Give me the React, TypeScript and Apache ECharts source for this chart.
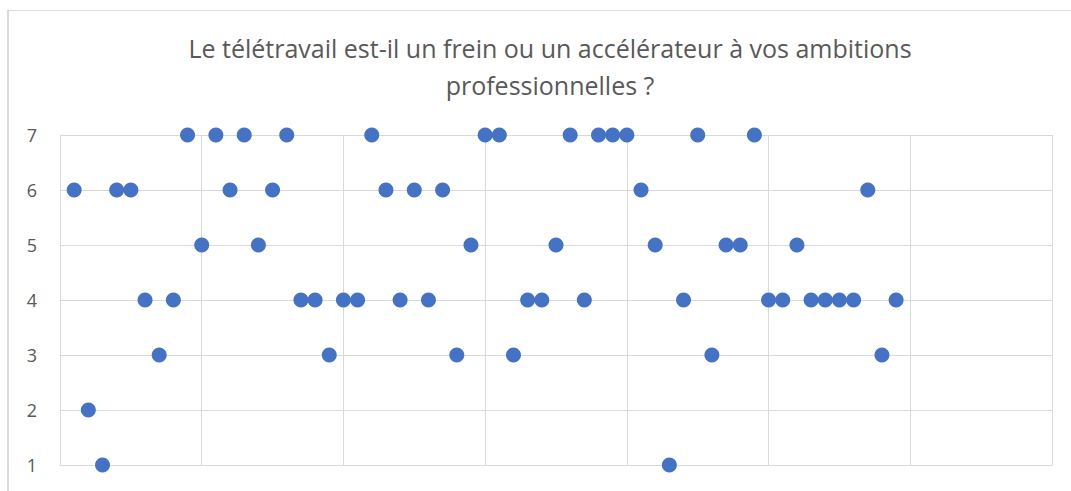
import React, { useEffect, useRef } from "react";
import * as echarts from "echarts";

const titleText = "Le télétravail est-il un frein ou un accélérateur à vos ambitions\nprofessionnelles ?";
const respondents = [
  1, 2, 3, 4, 5, 6, 7, 8, 9, 10, 11, 12, 13, 14, 15, 16, 17, 18, 19, 20,
  21, 22, 23, 24, 25, 26, 27, 28, 29, 30, 31, 32, 33, 34, 35, 36, 37, 38, 39, 40,
  41, 42, 43, 44, 45, 46, 47, 48, 49, 50, 51, 52, 53, 54, 55, 56, 57, 58, 59,
];
const answers = [
  6, 2, 1, 6, 6, 4, 3, 4, 7, 5, 7, 6, 7, 5, 6, 7, 4, 4, 3, 4,
  4, 7, 6, 4, 6, 4, 6, 3, 5, 7, 7, 3, 4, 4, 5, 7, 4, 7, 7, 7,
  6, 5, 1, 4, 7, 3, 5, 5, 7, 4, 4, 5, 4, 4, 4, 4, 6, 3, 4,
];
const yTicks = [1, 2, 3, 4, 5, 6, 7];

export default function App() {
  const ref = useRef<HTMLDivElement>(null);
  useEffect(() => {
    if (!ref.current) return;
    const chart = echarts.init(ref.current, null, { renderer: "svg" });
    const data = respondents.map((x, i) => [x, answers[i]]);
    chart.setOption({
      animation: false,
      backgroundColor: "#ffffff",
      title: {
        text: titleText,
        left: 545,
        textAlign: "center",
        top: 24,
        textStyle: {
          fontFamily: "Open Sans",
          fontSize: 25,
          fontWeight: "normal",
          color: "#595959",
          lineHeight: 37,
        },
      },
      graphic: [
        {
          type: "line",
          shape: { x1: 7, y1: 10.5, x2: 1071, y2: 10.5 },
          style: { stroke: "#d9d9d9", lineWidth: 1 },
        },
        {
          type: "line",
          shape: { x1: 8, y1: 10, x2: 8, y2: 491 },
          style: { stroke: "#d9d9d9", lineWidth: 2 },
        },
      ],
      grid: { left: 60, top: 135, right: 19, bottom: 26 },
      xAxis: {
        type: "value",
        min: 0,
        max: 70,
        interval: 10,
        axisLabel: { show: false },
        axisTick: { show: false },
        axisLine: { show: true, lineStyle: { color: "#d9d9d9", width: 1 } },
        splitLine: { show: true, lineStyle: { color: "#d9d9d9", width: 1 } },
      },
      yAxis: {
        type: "value",
        min: yTicks[0],
        max: yTicks[yTicks.length - 1],
        interval: 1,
        axisLabel: {
          fontFamily: "Open Sans",
          fontSize: 18,
          color: "#595959",
          margin: 23,
        },
        axisTick: { show: false },
        axisLine: { show: false },
        splitLine: { show: true, lineStyle: { color: "#d9d9d9", width: 1 } },
      },
      series: [
        {
          type: "scatter",
          data,
          symbol: "circle",
          symbolSize: 15,
          itemStyle: { color: "#4472C4", opacity: 1 },
        },
      ],
    });
    return () => chart.dispose();
  }, []);
  return (
    <div
      ref={ref}
      style={{ position: "fixed", left: 0, top: 0, width: 1071, height: 491 }}
    />
  );
}
